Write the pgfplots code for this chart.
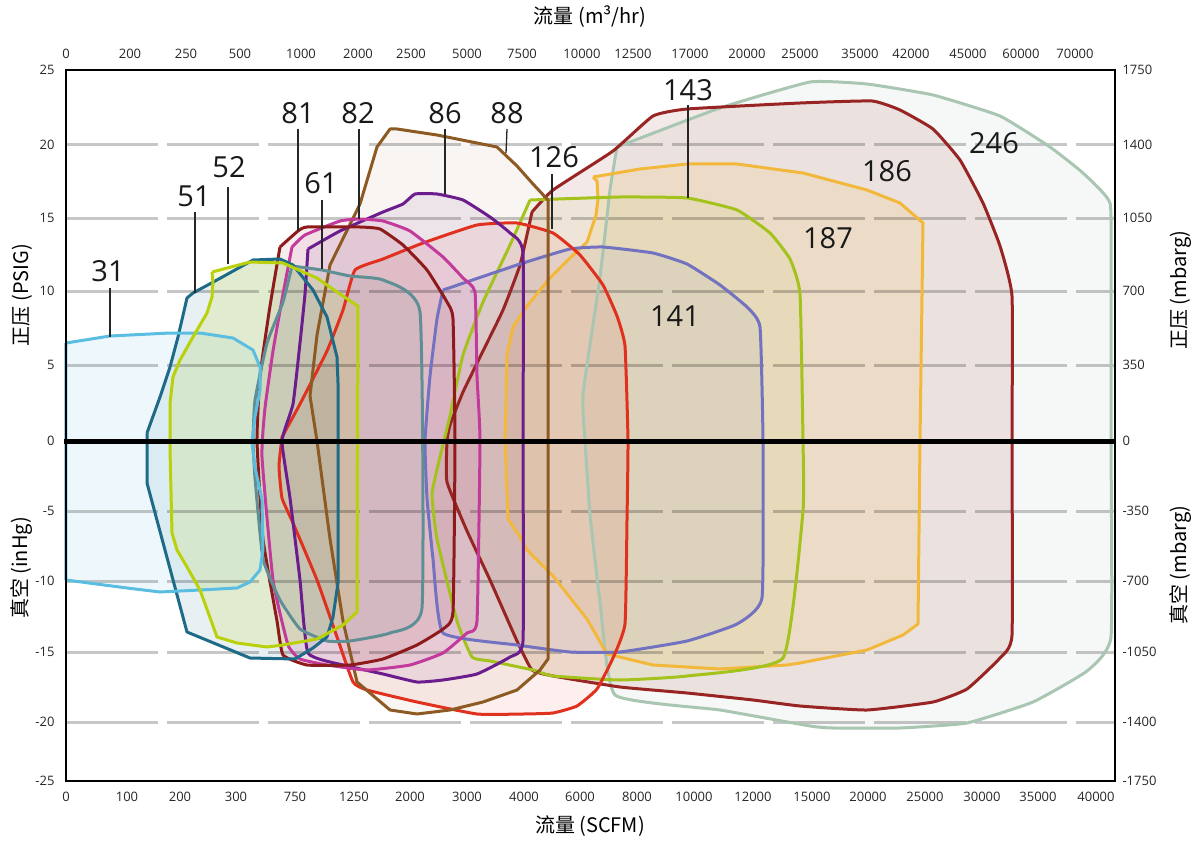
\documentclass[border=0pt]{standalone}
\usepackage{fontspec}
\setmainfont{Open Sans}
\newfontfamily\cjk{Noto Sans CJK SC}
\usepackage{pgfplots}
\usepackage{pgfplotstable}
\pgfplotsset{compat=1.18}

% outline colours
\definecolor{c31}{HTML}{5BBDE0}
\definecolor{c51}{HTML}{1E6B88}
\definecolor{c52}{HTML}{B9D10A}
\definecolor{c61}{HTML}{5F8F95}
\definecolor{c81}{HTML}{8E1B1B}
\definecolor{c82}{HTML}{C23A9C}
\definecolor{c86}{HTML}{6B1D8E}
\definecolor{c88}{HTML}{8C5A22}
\definecolor{c126}{HTML}{E0301E}
\definecolor{c141}{HTML}{7272C0}
\definecolor{c143}{HTML}{A3C21C}
\definecolor{c187}{HTML}{F2B83B}
\definecolor{c186}{HTML}{982423}
\definecolor{c246}{HTML}{A9C6B2}

% envelopes, in chart units (x: flow scale position, y: pressure scale position)
\pgfplotstableread{
x y
66 343
110 336
170 333
200 333
233 338
253 350
260 367
260 390
255 417
252 443
255 467
262 500
263 550
260 570
250 582
237 588
200 590
160 592
127 588
66 580
66 343
}\tA
\pgfplotstableread{
x y
147 433
160 397
170 367
178 337
187 298
193 293
217 280
253 260
280 259
293 265
313 290
327 317
337 357
338 383
338 583
333 617
327 637
313 648
295 659
250 658
187 632
147 483
147 433
}\tB
\pgfplotstableread{
x y
212 272
250 262
283 263
317 278
340 294
358 306
357 612
343 625
317 639
283 645
267 647
237 643
217 637
200 590
187 567
177 550
172 533
170 450
170 403
173 377
180 360
193 337
207 313
212 297
213 283
212 272
}\tC
\pgfplotstableread{
x y
292 266
322 270
350 276
383 280
420 312
422 608
390 633
350 641
327 641
300 629
280 600
263 559
255 478
253 441
255 400
267 343
283 302
292 266
}\tD
\pgfplotstableread{
x y
280 247
298 231
307 227
360 227
380 229
403 245
427 270
447 302
453 319
455 441
453 612
443 629
417 645
383 659
350 665
307 665
283 655
277 621
263 539
257 441
260 376
270 306
280 247
}\tE
\pgfplotstableread{
x y
292 247
305 235
340 221
360 219
383 221
410 231
443 257
463 278
475 292
477 376
480 441
477 621
467 633
443 653
410 665
367 670
327 665
300 659
288 645
273 580
262 457
265 408
273 351
283 294
292 247
}\tF
\pgfplotstableread{
x y
308 249
340 231
383 212
403 204
415 194
437 194
463 200
490 217
510 233
523 253
523 441
523 641
510 657
477 674
443 680
417 682
383 674
343 665
308 653
300 580
290 498
282 441
293 404
300 343
305 294
308 249
}\tG
\pgfplotstableread{
x y
360 204
377 147
390 129
397 129
437 135
497 147
517 166
533 184
548 200
548 441
548 659
540 670
517 690
483 702
450 710
417 714
390 710
357 682
343 621
330 539
317 441
310 396
317 335
330 265
360 204
}\tH
\pgfplotstableread{
x y
282 437
300 404
327 351
343 310
355 270
383 259
423 243
477 225
517 223
553 233
580 255
603 285
617 316
625 346
628 441
627 520
625 624
613 658
597 689
577 706
553 713
523 714
477 714
417 702
367 690
353 682
337 637
317 580
293 523
282 498
279 466
282 437
}\tI
\pgfplotstableread{
x y
443 290
520 264
570 249
603 247
653 253
687 264
720 285
747 307
760 327
763 441
762 598
737 624
687 641
620 652
570 652
517 645
443 633
433 559
427 498
425 441
430 376
437 319
443 290
}\tJ
\pgfplotstableread{
x y
530 200
620 197
687 198
737 210
770 233
790 259
800 294
803 441
803 511
783 658
687 676
620 680
553 676
533 670
490 661
472 657
457 621
437 539
432 494
440 457
450 416
463 355
483 302
510 245
530 200
}\tK
\pgfplotstableread{
x y
593 177
640 169
687 164
737 164
803 173
867 190
900 203
923 223
920 441
918 624
903 635
867 650
800 663
787 665
720 669
653 665
607 654
587 619
553 576
527 550
520 537
508 519
505 441
507 355
513 327
527 306
550 278
570 258
587 242
596 215
598 199
597 181
593 177
}\tL
\pgfplotstableread{
x y
532 212
553 190
613 151
653 116
687 109
800 103
872 101
900 110
933 129
960 160
983 203
1000 246
1012 296
1012 441
1012 635
1000 658
967 689
933 702
867 710
800 706
753 700
687 693
620 687
553 676
532 670
517 641
490 580
467 531
447 482
447 441
450 425
463 392
483 351
503 310
520 265
532 212
}\tM
\pgfplotstableread{
x y
617 147
720 108
810 82
867 84
933 95
1000 116
1050 147
1083 173
1110 203
1111 277
1111 441
1111 637
1087 671
1033 702
967 723
900 728
833 728
810 726
720 710
615 695
600 602
590 515
585 441
583 394
600 277
610 190
617 147
}\tN

\newcommand\ticks{\fontsize{13}{13}\selectfont}
\newcommand\ttl{\cjk\fontsize{20}{20}\selectfont}
\newcommand\lbl{\fontsize{29}{29}\selectfont}

\begin{document}
\begin{tikzpicture}
\useasboundingbox (0,0) rectangle (1198pt,840pt);
\pgfplotsset{
  base/.style={
    at={(66pt,59pt)}, anchor=south west,
    scale only axis, width=1049pt, height=711pt,
    xmin=66, xmax=1115, ymin=70, ymax=781, y dir=reverse,
    major tick length=0pt,
    tick label style={font=\ticks, text=black!85},
    clip=false
  },
  edge/.style={line width=3pt, line join=round},
  round/.style={smooth, tension=0.25},
}
\begin{axis}[
  base,
  axis line style={draw=none},
  xtick={66,127,180,236,295,354,410,467,524,580,637,694,753,812,868,925,982,1038,1096},
  xticklabels={0,100,200,300,750,1250,2000,3000,4000,6000,8000,10000,12000,15000,20000,25000,30000,35000,40000},
  xticklabel style={yshift=-8pt},
  ytick={70,145,218,291,365,441,511,581,652,722,781},
  yticklabels={25,20,15,10,5,0,-5,-10,-15,-20,-25},
  yticklabel style={xshift=-8pt},
]
% fills
\addplot[draw=none, fill=c246, fill opacity=0.12, round] table {\tN};
\addplot[draw=none, fill=c186, fill opacity=0.10, round] table {\tM};
\addplot[draw=none, fill=c187, fill opacity=0.15] table {\tL};
\addplot[draw=none, fill=c143, fill opacity=0.08, round] table {\tK};
\addplot[draw=none, fill=c141, fill opacity=0.08, round] table {\tJ};
\addplot[draw=none, fill=c126, fill opacity=0.08, round] table {\tI};
\addplot[draw=none, fill=c88, fill opacity=0.06] table {\tH};
\addplot[draw=none, fill=c86, fill opacity=0.08, round] table {\tG};
\addplot[draw=none, fill=c82, fill opacity=0.08, round] table {\tF};
\addplot[draw=none, fill=c81, fill opacity=0.08, round] table {\tE};
\addplot[draw=none, fill=c61, fill opacity=0.10, round] table {\tD};
\addplot[draw=none, fill=c51, fill opacity=0.10] table {\tB};
\addplot[draw=none, fill=c31, fill opacity=0.10] table {\tA};
\addplot[draw=none, fill=c52, fill opacity=0.15] table {\tC};
% grid
\pgfplotsinvokeforeach{145,218,291,365,511,581,652,722}{
  \draw[black, draw opacity=0.22, line width=3pt, dash pattern=on 92pt off 9pt]
    (axis cs:66,#1) -- (axis cs:1115,#1);
}
% outlines
\addplot[c246, edge, round] table {\tN};
\addplot[c186, edge, round] table {\tM};
\addplot[c187, edge] table {\tL};
\addplot[c143, edge, round] table {\tK};
\addplot[c141, edge, round] table {\tJ};
\addplot[c126, edge, round] table {\tI};
\addplot[c88, edge] table {\tH};
\addplot[c86, edge, round] table {\tG};
\addplot[c82, edge, round] table {\tF};
\addplot[c81, edge, round] table {\tE};
\addplot[c61, edge, round] table {\tD};
\addplot[c51, edge] table {\tB};
\addplot[c31, edge] table {\tA};
\addplot[c52, edge] table {\tC};
% zero line
\draw[black, line width=5pt] (axis cs:64,441) -- (axis cs:1115,441);
% leaders
\begin{scope}[black!85, line width=1.3pt]
\draw (axis cs:110,288) -- (axis cs:110,337);
\draw (axis cs:195,212) -- (axis cs:195,293);
\draw (axis cs:228,187) -- (axis cs:228,264);
\draw (axis cs:322,200) -- (axis cs:322,269);
\draw (axis cs:298,129) -- (axis cs:298,231);
\draw (axis cs:359,129) -- (axis cs:359,219);
\draw (axis cs:445,129) -- (axis cs:445,194);
\draw (axis cs:507,129) -- (axis cs:506,153);
\draw (axis cs:552,174) -- (axis cs:552,229);
\draw (axis cs:688,105) -- (axis cs:688,198);
\end{scope}
% envelope names
\begin{scope}[font=\lbl, text=black!90]
\node at (axis cs:108,271) {31};
\node at (axis cs:194,196) {51};
\node at (axis cs:229,167) {52};
\node at (axis cs:321,183) {61};
\node at (axis cs:298,113) {81};
\node at (axis cs:358,113) {82};
\node at (axis cs:445,113) {86};
\node at (axis cs:507,113) {88};
\node at (axis cs:554,157) {126};
\node at (axis cs:688,90) {143};
\node at (axis cs:675,316) {141};
\node at (axis cs:828,238) {187};
\node at (axis cs:887,171) {186};
\node at (axis cs:994,143) {246};
\end{scope}
% axis titles
\node[font=\ttl] at (axis cs:590,17) {流量 (m³/hr)};
\node[font=\ttl] at (axis cs:590,826) {流量 (SCFM)};
\node[font=\ttl, rotate=90] at (axis cs:22,295) {正压 (PSIG)};
\node[font=\ttl, rotate=90] at (axis cs:22,568) {真空 (inHg)};
\node[font=\ttl, rotate=90] at (axis cs:1181,290) {正压 (mbarg)};
\node[font=\ttl, rotate=90] at (axis cs:1181,565) {真空 (mbarg)};
\end{axis}
% second axis: top and right scales, and the frame drawn over the envelopes
\begin{axis}[
  base,
  axis line style={line width=1.3pt},
  xticklabel pos=upper, yticklabel pos=right,
  xtick={66,130,186,240,301,358,411,467,522,582,633,690,747,800,860,911,968,1021,1075},
  xticklabels={0,200,250,500,1000,2000,2500,5000,7500,10000,12500,17000,20000,25000,35000,42000,45000,60000,70000},
  xticklabel style={yshift=8pt},
  ytick={70,145,218,291,365,441,511,581,652,722,781},
  yticklabels={1750,1400,1050,700,350,0,-350,-700,-1050,-1400,-1750},
  yticklabel style={xshift=4pt},
]
\end{axis}
\end{tikzpicture}
\end{document}
